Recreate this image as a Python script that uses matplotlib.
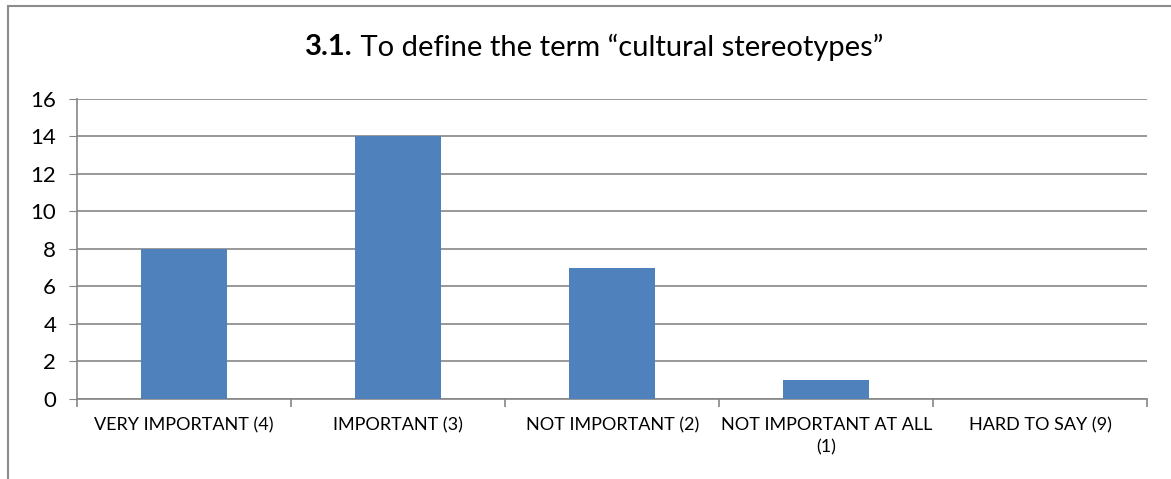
import matplotlib.pyplot as plt
from matplotlib.patches import Rectangle

# Responses for question 3.1
categories = ['VERY IMPORTANT (4)', 'IMPORTANT (3)', 'NOT IMPORTANT (2)',
              'NOT IMPORTANT AT ALL\n(1)', 'HARD TO SAY (9)']
counts = [8, 14, 7, 1, 0]
y_ticks = [0, 2, 4, 6, 8, 10, 12, 14, 16]

plt.rcParams['font.family'] = ['Lato', 'DejaVu Sans']

W, H = 1171, 479
fig = plt.figure(figsize=(W / 100, H / 100), dpi=100)
ax = fig.add_axes([0.0658, 0.167, 0.914, 0.627])

x = list(range(len(categories)))
ax.bar(x, counts, width=0.4, color='#4F81BD', zorder=3)

ax.set_xlim(-0.5, len(categories) - 0.5)
ax.set_ylim(0, 16)
ax.set_yticks(y_ticks)
ax.tick_params(axis='y', labelsize=16, length=6, color='#868686', pad=9)
ax.grid(axis='y', color='#868686', linewidth=1.2, zorder=0)

ax.set_xticks(x)
ax.set_xticklabels(categories, fontsize=13, linespacing=1.5)
ax.tick_params(axis='x', length=0, pad=13)
# category boundary ticks
ax.set_xticks([i - 0.5 for i in range(len(categories) + 1)], minor=True)
ax.tick_params(axis='x', which='minor', length=6, color='#868686', width=1.2)

for side in ['top', 'right']:
    ax.spines[side].set_visible(False)
for side in ['left', 'bottom']:
    ax.spines[side].set_color('#868686')
    ax.spines[side].set_linewidth(1.2)

# title: bold number followed by regular text, centred as one line
renderer = fig.canvas.get_renderer()
ty = 1 - 47 / H
t1 = fig.text(0, ty, '3.1.', ha='left', va='center', fontsize=21, fontweight='bold')
t2 = fig.text(0, ty, ' To define the term \u201ccultural stereotypes\u201d',
              ha='left', va='center', fontsize=21)
w1 = t1.get_window_extent(renderer).width
w2 = t2.get_window_extent(renderer).width
x0 = 594 - (w1 + w2) / 2
t1.set_x(x0 / W)
t2.set_x((x0 + w1) / W)

# chart frame
fig.patches.append(Rectangle((8 / W, -0.1), 1.2, 1 - 6 / H + 0.1,
                             transform=fig.transFigure, fill=False,
                             edgecolor='#8c8c8c', linewidth=1.5))

fig.savefig('out.png', dpi=100)
